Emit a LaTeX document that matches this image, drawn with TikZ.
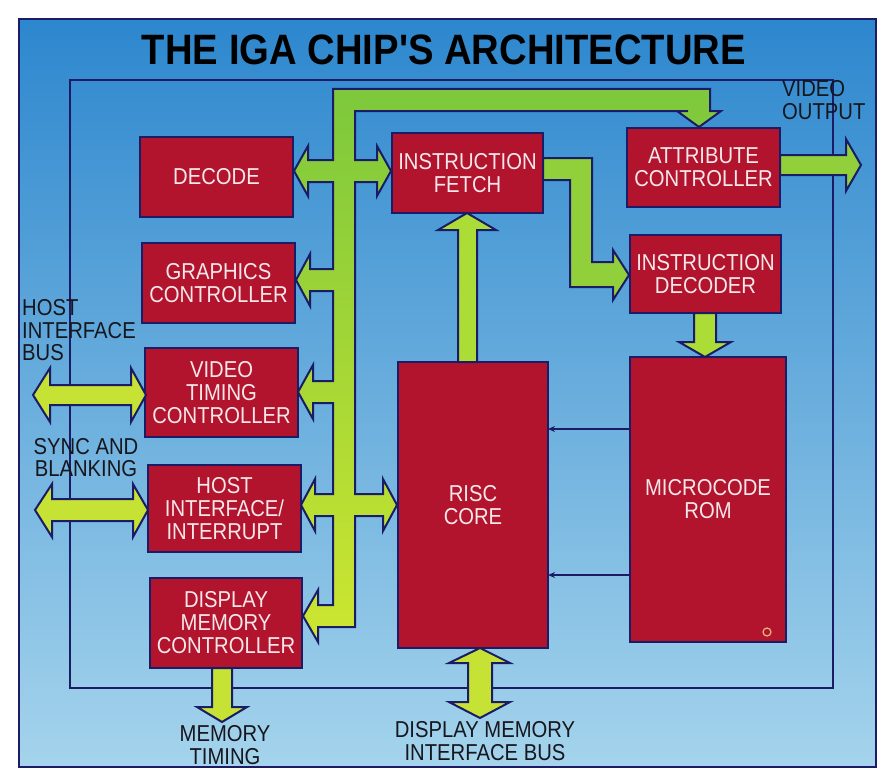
\documentclass[tikz,border=0pt]{standalone}
\usepackage{fontspec}
\setmainfont{Liberation Sans}
\newfontfamily\labfont[FakeStretch=0.88]{Liberation Sans}
\newfontfamily\ttlfont[FakeStretch=0.9]{Liberation Sans Bold}
\usetikzlibrary{arrows.meta}
\definecolor{navy}{RGB}{27,27,102}
\definecolor{boxred}{RGB}{178,20,46}
\definecolor{boxtxt}{RGB}{246,232,234}
\definecolor{paneltop}{RGB}{45,135,206}
\definecolor{panelmid}{RGB}{95,172,224}
\definecolor{panelbot}{RGB}{165,212,236}
\definecolor{gtop}{RGB}{125,200,60}
\definecolor{gbot}{RGB}{205,230,48}
\definecolor{gyel}{RGB}{198,226,52}
\definecolor{ggrn}{RGB}{145,208,58}
\definecolor{gmid}{RGB}{172,220,54}
\definecolor{txtdark}{RGB}{22,22,30}
\definecolor{speck}{RGB}{228,186,120}
\begin{document}
\begin{tikzpicture}[x=1pt,y=-1pt,
  blk/.style={draw=navy, line width=2pt, fill=boxred, text=boxtxt, inner sep=0pt, outer sep=0pt,
              align=center, font=\labfont\fontsize{23}{23}\selectfont},
  garrow/.style={draw=navy, line width=2pt, line join=miter, fill=#1},
  garrow/.default=gmid,
  frameline/.style={draw=navy, line width=2.2pt},
  lbl/.style={text=txtdark, inner sep=0pt, font=\labfont\fontsize{23}{22.5}\selectfont},
  ctrlarrow/.style={draw=navy, line width=1.5pt, -{Stealth[length=7pt,width=6pt]}}]

% canvas and panel
\fill[white] (0,0) rectangle (882,773);
\useasboundingbox (0,0) rectangle (882,773);
\shade[top color=paneltop, middle color=panelmid, bottom color=panelbot] (19,19) rectangle (876,767);
\draw[navy, line width=2pt] (19,19) rectangle (876,767);

% inner frame
\draw[frameline] (70,80) rectangle (833,688);

% title
\node[anchor=base, inner sep=0pt, text=black, font=\ttlfont\fontsize{42.5}{42.5}\selectfont] (title) at (444,65) {THE IGA CHIP'S ARCHITECTURE};

% blocks
\node[blk, minimum width=153pt, minimum height=80pt] (decode) at (216.5,177) {DECODE};
\node[blk, minimum width=153pt, minimum height=80pt] (graph) at (218.5,283) {GRAPHICS\\CONTROLLER};
\node[blk, minimum width=153pt, minimum height=89pt] (vtc) at (221.5,392.5) {VIDEO\\TIMING\\CONTROLLER};
\node[blk, minimum width=153pt, minimum height=87pt] (host) at (224.5,508.5) {HOST\\INTERFACE/\\INTERRUPT};
\node[blk, minimum width=152pt, minimum height=90pt] (dmc) at (226,623) {DISPLAY\\MEMORY\\CONTROLLER};
\node[blk, minimum width=151pt, minimum height=80pt] (fetch) at (467.5,173) {INSTRUCTION\\FETCH};
\node[blk, minimum width=153pt, minimum height=79pt] (attr) at (703.5,167.5) {ATTRIBUTE\\CONTROLLER};
\node[blk, minimum width=151pt, minimum height=78pt] (idec) at (705.5,274) {INSTRUCTION\\DECODER};
\node[blk, minimum width=150pt, minimum height=286pt] (risc) at (473,505) {RISC\\CORE};
\node[blk, minimum width=156pt, minimum height=285pt] (rom) at (708,499.5) {MICROCODE\\ROM};

% small speck on the ROM block
\draw[speck, line width=1.2pt] (767,632) circle [radius=4pt];

% thin control arrows ROM -> RISC
\coordinate (ya) at (0,429);
\coordinate (yb) at (0,575);
\draw[ctrlarrow] (rom.west |- ya) -- (risc.east |- ya);
\draw[ctrlarrow] (rom.west |- yb) -- (risc.east |- yb);

% internal bus
\draw[draw=navy, line width=2pt, line join=miter, top color=gtop, bottom color=gbot]
  (333,89) -- (710,89) -- (710,111) -- (721,111) -- (699,127) -- (677,111) -- (688,111)
  -- (355,111) -- (355,160) -- (377,160) -- (377,146) -- (391,171) -- (377,196) -- (377,182)
  -- (355,182) -- (355,494) -- (383,494) -- (383,479) -- (397,505) -- (383,531) -- (383,516)
  -- (355,516) -- (355,627) -- (318,627) -- (318,642) -- (303,616) -- (318,590) -- (318,605)
  -- (333,605) -- (333,516) -- (315,516) -- (315,531) -- (301,505) -- (315,479) -- (315,494)
  -- (333,494) -- (333,403) -- (313,403) -- (313,419) -- (298,392) -- (313,365) -- (313,381)
  -- (333,381) -- (333,291) -- (310,291) -- (310,306) -- (296,280) -- (310,254) -- (310,269)
  -- (333,269) -- (333,182) -- (308,182) -- (308,196) -- (294,171) -- (308,146) -- (308,160)
  -- (333,160) -- cycle;

% RISC core -> instruction fetch
\draw[garrow=gmid] (458,362) -- (458,230) -- (438,230) -- (467,213) -- (496,230) -- (477,230) -- (477,362) -- cycle;

% instruction fetch -> instruction decoder
\draw[garrow=ggrn] (543,158) -- (592,158) -- (592,262) -- (613,262) -- (613,250) -- (629,275)
  -- (613,300) -- (613,287) -- (570,287) -- (570,180) -- (543,180) -- cycle;

% instruction decoder -> microcode ROM
\draw[garrow=gmid] (694,313) -- (694,342) -- (679,342) -- (705,357) -- (731,342) -- (716,342) -- (716,313) -- cycle;

% attribute controller -> video output
\draw[garrow=ggrn] (780,155) -- (846,155) -- (846,139) -- (861,165) -- (846,191) -- (846,175) -- (780,175) -- cycle;

% display memory controller -> memory timing
\draw[garrow=gyel] (212,668) -- (212,707) -- (197,707) -- (222,722) -- (247,707) -- (232,707) -- (232,668) -- cycle;

% display memory interface bus
\draw[garrow=gyel] (480,648) -- (510,663) -- (492,663) -- (492,702) -- (510,702) -- (480,718)
  -- (449,702) -- (468,702) -- (468,663) -- (449,663) -- cycle;

% external host interface bus (video timing)
\draw[garrow=gyel] (33,395) -- (50,368) -- (50,385) -- (131,385) -- (131,368) -- (146,395)
  -- (131,422) -- (131,405) -- (50,405) -- (50,422) -- cycle;

% external sync and blanking (host interface)
\draw[garrow=gyel] (35,510) -- (52,484) -- (52,499) -- (133,499) -- (133,484) -- (148,510)
  -- (133,537) -- (133,521) -- (52,521) -- (52,537) -- cycle;

% outside labels
\node[lbl, anchor=west, align=left] (hib) at (22,330.5) {HOST\\INTERFACE\\BUS};
\node[lbl, align=center] (sync) at (86,457.5) {SYNC AND\\BLANKING};
\node[lbl, anchor=west, align=left] (vout) at (782,100) {VIDEO\\OUTPUT};
\node[lbl, align=center] (mtim) at (225,745) {MEMORY\\TIMING};
\node[lbl, align=center] (dmib) at (485,741) {DISPLAY MEMORY\\INTERFACE BUS};
\end{tikzpicture}
\end{document}
